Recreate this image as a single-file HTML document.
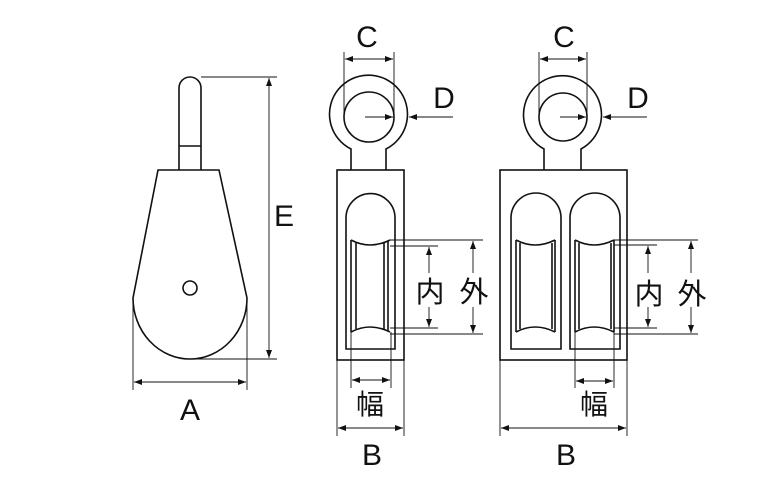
<!DOCTYPE html>
<html><head><meta charset="utf-8"><style>
html,body{margin:0;padding:0;background:#fff;}
svg{display:block;}
text{font-family:"Liberation Sans","Noto Sans CJK JP",sans-serif;fill:#111;}
</style></head><body>
<svg width="765" height="479" viewBox="0 0 765 479" xmlns="http://www.w3.org/2000/svg">
<defs>
<marker id="ar" markerWidth="8" markerHeight="6" refX="8" refY="3" orient="auto-start-reverse" markerUnits="userSpaceOnUse">
<path d="M0,0 L8,3 L0,6 Z" fill="#111"/>
</marker>
</defs>
<g fill="none" stroke="#111" stroke-width="1.6">
<!-- Left pulley -->
<path d="M179,170 L179,88 A11,11 0 0 1 201,88 L201,170"/>
<line x1="179" y1="146" x2="201" y2="146"/>
<path d="M158,170 L219,170 L247,298 A57,61 0 0 1 133,298 Z" fill="#fff"/>
<circle cx="190" cy="288" r="7"/>
</g>
<g fill="none" stroke="#111" stroke-width="0.9">
<line x1="201" y1="77" x2="277" y2="77"/>
<line x1="190" y1="359" x2="277" y2="359"/>
<line x1="269" y1="78" x2="269" y2="358" marker-start="url(#ar)" marker-end="url(#ar)"/>
<line x1="133" y1="300" x2="133" y2="390"/>
<line x1="247" y1="300" x2="247" y2="390"/>
<line x1="134" y1="382" x2="246" y2="382" marker-start="url(#ar)" marker-end="url(#ar)"/>
</g>
<text x="284" y="226" font-size="30" text-anchor="middle">E</text>
<text x="190" y="420" font-size="30" text-anchor="middle">A</text>

<!-- Middle single -->
<g fill="none" stroke="#111" stroke-width="1.6">
<path d="M351,170 L351,149 A39,39 0 1 1 386,149 L386,170"/>
<circle cx="369" cy="117" r="25"/>
<rect x="337" y="170" width="67" height="190"/>
<path d="M346,349 L346,218 A24.5,24.5 0 0 1 395,218 L395,349 Z"/>
<path d="M351,240 Q370,250 390,240 M351,332 Q370,322 390,332"/>
<line x1="351" y1="240" x2="351" y2="332"/>
<line x1="356" y1="243" x2="356" y2="329"/>
<line x1="384" y1="243" x2="384" y2="329"/>
<line x1="388" y1="241" x2="388" y2="331"/>
</g>
<g fill="none" stroke="#111" stroke-width="0.9">
<line x1="344" y1="52" x2="344" y2="117"/>
<line x1="394" y1="52" x2="394" y2="117"/>
<line x1="345" y1="59" x2="393" y2="59" marker-start="url(#ar)" marker-end="url(#ar)"/>
<line x1="365" y1="117" x2="393" y2="117" marker-end="url(#ar)"/>
<line x1="453" y1="117" x2="409" y2="117" marker-end="url(#ar)"/>
<line x1="390" y1="240" x2="483" y2="240"/>
<line x1="390" y1="246" x2="438" y2="246"/>
<line x1="390" y1="328" x2="438" y2="328"/>
<line x1="390" y1="334" x2="483" y2="334"/>
<line x1="429" y1="247" x2="429" y2="327" marker-start="url(#ar)" marker-end="url(#ar)"/>
<line x1="473" y1="241" x2="473" y2="333" marker-start="url(#ar)" marker-end="url(#ar)"/>
<line x1="351" y1="332" x2="351" y2="388"/>
<line x1="391" y1="332" x2="391" y2="388"/>
<line x1="352" y1="380" x2="390" y2="380" marker-start="url(#ar)" marker-end="url(#ar)"/>
<line x1="337" y1="360" x2="337" y2="436"/>
<line x1="404" y1="360" x2="404" y2="436"/>
<line x1="338" y1="428" x2="403" y2="428" marker-start="url(#ar)" marker-end="url(#ar)"/>
</g>
<rect x="414" y="273" width="31" height="34" fill="#fff"/>
<rect x="457" y="273" width="33" height="34" fill="#fff"/>
<text x="367" y="47" font-size="30" text-anchor="middle">C</text>
<text x="444" y="108" font-size="30" text-anchor="middle">D</text>
<text x="430" y="302" font-size="29" text-anchor="middle">内</text>
<text x="474" y="302" font-size="29" text-anchor="middle">外</text>
<text x="370" y="414" font-size="28" text-anchor="middle">幅</text>
<text x="372" y="465" font-size="30" text-anchor="middle">B</text>

<!-- Right double -->
<g fill="none" stroke="#111" stroke-width="1.6">
<path d="M544,170 L544,149 A39,39 0 1 1 581,149 L581,170"/>
<circle cx="563" cy="117" r="24"/>
<rect x="500" y="170" width="127" height="190"/>
<path d="M511,349 L511,218 A25,25 0 0 1 561,218 L561,349 Z"/>
<path d="M570,349 L570,218 A25,25 0 0 1 620,218 L620,349 Z"/>
<path d="M516,240 Q535,250 555,240 M516,332 Q535,322 555,332"/>
<line x1="516" y1="240" x2="516" y2="332"/>
<line x1="520" y1="243" x2="520" y2="329"/>
<line x1="552" y1="243" x2="552" y2="329"/>
<line x1="555" y1="240" x2="555" y2="332"/>
<path d="M575,240 Q594,250 614,240 M575,332 Q594,322 614,332"/>
<line x1="575" y1="240" x2="575" y2="332"/>
<line x1="579" y1="243" x2="579" y2="329"/>
<line x1="611" y1="243" x2="611" y2="329"/>
<line x1="614" y1="240" x2="614" y2="332"/>
</g>
<g fill="none" stroke="#111" stroke-width="0.9">
<line x1="539" y1="52" x2="539" y2="117"/>
<line x1="587" y1="52" x2="587" y2="117"/>
<line x1="540" y1="59" x2="586" y2="59" marker-start="url(#ar)" marker-end="url(#ar)"/>
<line x1="560" y1="117" x2="586" y2="117" marker-end="url(#ar)"/>
<line x1="647" y1="117" x2="603" y2="117" marker-end="url(#ar)"/>
<line x1="614" y1="240" x2="698" y2="240"/>
<line x1="614" y1="245" x2="657" y2="245"/>
<line x1="614" y1="328" x2="657" y2="328"/>
<line x1="614" y1="334" x2="698" y2="334"/>
<line x1="648" y1="246" x2="648" y2="327" marker-start="url(#ar)" marker-end="url(#ar)"/>
<line x1="691" y1="241" x2="691" y2="333" marker-start="url(#ar)" marker-end="url(#ar)"/>
<line x1="575" y1="332" x2="575" y2="388"/>
<line x1="614" y1="332" x2="614" y2="388"/>
<line x1="576" y1="381" x2="613" y2="381" marker-start="url(#ar)" marker-end="url(#ar)"/>
<line x1="500" y1="360" x2="500" y2="436"/>
<line x1="627" y1="360" x2="627" y2="436"/>
<line x1="501" y1="428" x2="626" y2="428" marker-start="url(#ar)" marker-end="url(#ar)"/>
</g>
<rect x="633" y="273" width="31" height="34" fill="#fff"/>
<rect x="675" y="273" width="33" height="34" fill="#fff"/>
<text x="564" y="47" font-size="30" text-anchor="middle">C</text>
<text x="638" y="108" font-size="30" text-anchor="middle">D</text>
<text x="649" y="304" font-size="29" text-anchor="middle">内</text>
<text x="692" y="304" font-size="29" text-anchor="middle">外</text>
<text x="594" y="414" font-size="28" text-anchor="middle">幅</text>
<text x="566" y="465" font-size="30" text-anchor="middle">B</text>
</svg>
</body></html>
